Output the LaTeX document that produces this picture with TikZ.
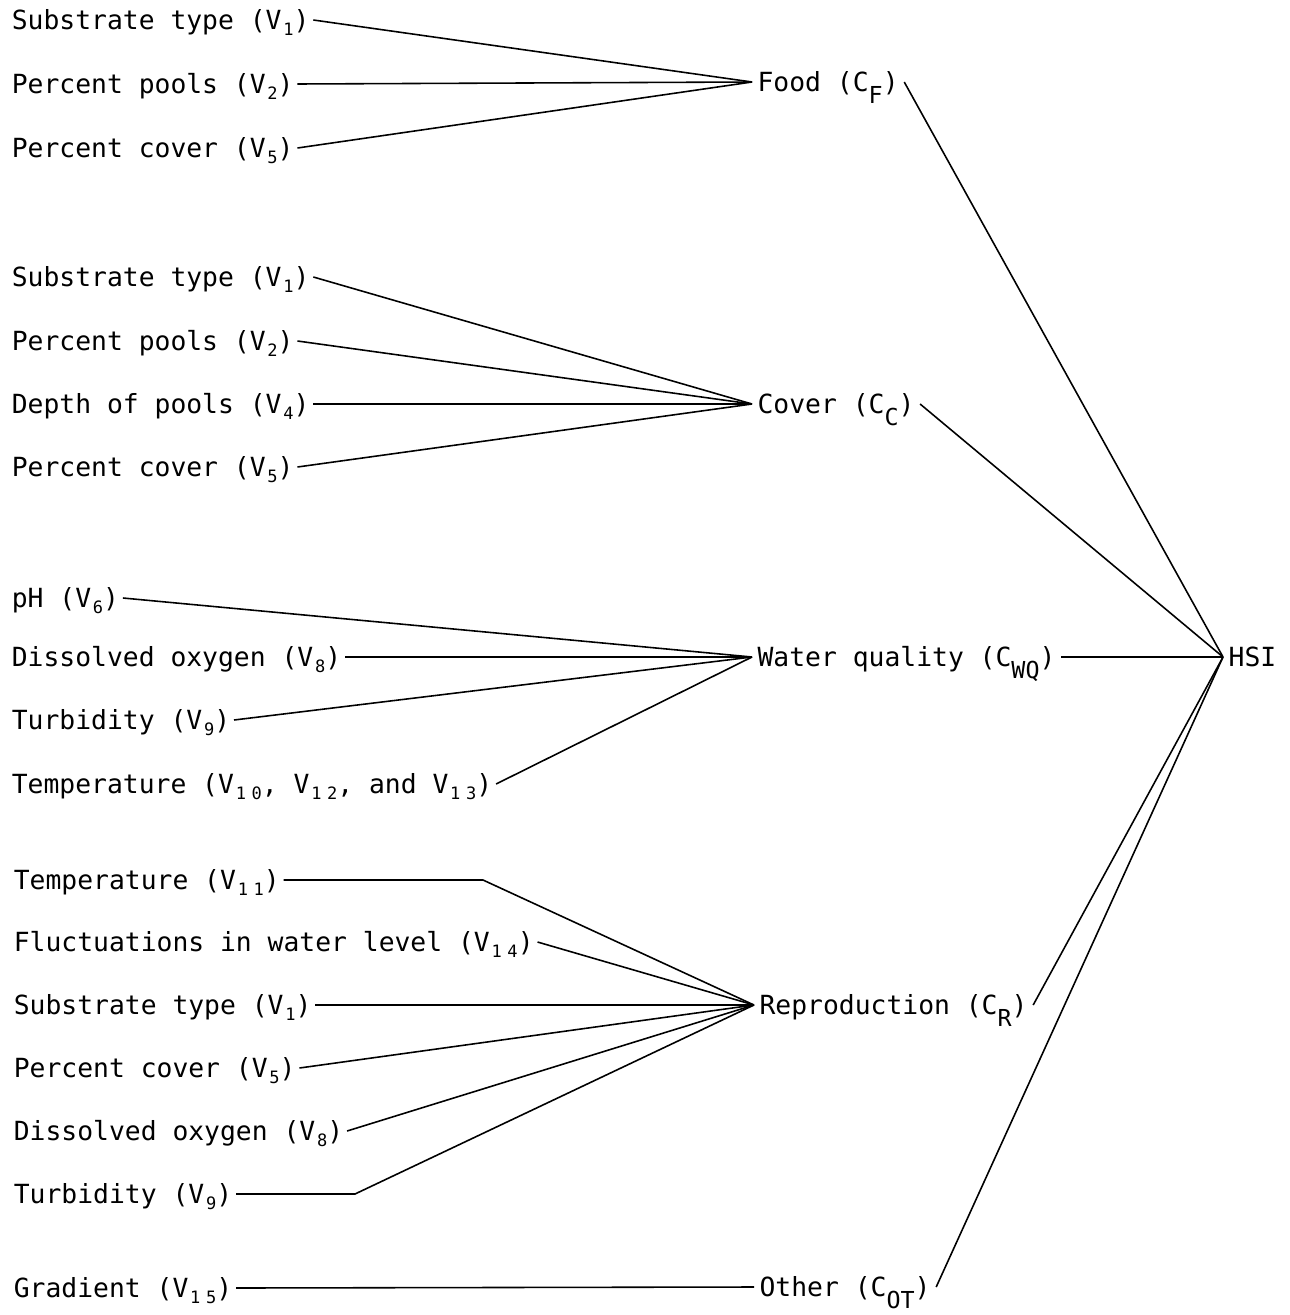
\documentclass[tikz,border=0pt]{standalone}
\usepackage{fontspec}
\newfontfamily\typefont{DejaVu Sans Mono}
\usepackage{tikz}
\usetikzlibrary{positioning}
\newcommand\vsub[1]{\raisebox{-0.4ex}{\fontsize{9.7}{10}\selectfont\addfontfeature{LetterSpace=33}\hspace{1pt}#1}}
\newcommand\csub[1]{\raisebox{-0.85ex}{\fontsize{13.3}{13}\selectfont#1}}

\begin{document}
\begin{tikzpicture}[x=0.02cm,y=-0.02cm,%
		   factor/.style={anchor=west,inner sep=2pt,text height=12pt,text depth=1.4pt,
		      font=\typefont\fontsize{15}{17}\selectfont},
		   component/.style={factor,inner sep=3pt},
		   link/.style={line width=0.9pt,black}]
	\useasboundingbox (0,0) rectangle (1290,1315);

	% components and index
	\node[component](food) at (752,82) {Food (C\csub{F})};
	\node[component](cover) at (752,404) {Cover (C\csub{C})};
	\node[component](water) at (752,657) {Water quality (C\csub{WQ})};
	\node[component](repro) at (754,1005) {Reproduction (C\csub{R})};
	\node[component](other) at (754,1287) {Other (C\csub{OT})};
	\node[component](hsi) at (1223,657) {HSI};

	\foreach \comp in {food,cover,water,repro,other}
	   \draw[link] (\comp.east) -- (hsi.west);

	% factors feeding each component
	\foreach \desc/\y [count=\i] in {%
		{Substrate type (V\vsub{1})}/20,%
		{Percent pools (V\vsub{2})}/84,%
		{Percent cover (V\vsub{5})}/148%
	   } { \node[factor](f-\i) at (8,\y) {\desc};
	       \draw[link] (f-\i.east) -- (food.west);
	   }

	\foreach \desc/\y [count=\i] in {%
		{Substrate type (V\vsub{1})}/277,%
		{Percent pools (V\vsub{2})}/341,%
		{Depth of pools (V\vsub{4})}/404,%
		{Percent cover (V\vsub{5})}/467%
	   } { \node[factor](c-\i) at (8,\y) {\desc};
	       \draw[link] (c-\i.east) -- (cover.west);
	   }

	\foreach \desc/\y [count=\i] in {%
		{pH (V\vsub{6})}/598,%
		{Dissolved oxygen (V\vsub{8})}/657,%
		{Turbidity (V\vsub{9})}/720,%
		{Temperature (V\vsub{10}, V\vsub{12}, and V\vsub{13})}/784%
	   } { \node[factor](w-\i) at (8,\y) {\desc};
	       \draw[link] (w-\i.east) -- (water.west);
	   }

	\foreach \desc/\y [count=\i] in {%
		{Temperature (V\vsub{11})}/880,%
		{Fluctuations in water level (V\vsub{14})}/942,%
		{Substrate type (V\vsub{1})}/1005,%
		{Percent cover (V\vsub{5})}/1068,%
		{Dissolved oxygen (V\vsub{8})}/1131,%
		{Turbidity (V\vsub{9})}/1194%
	   } { \node[factor](r-\i) at (10,\y) {\desc};
	       \ifnum\i=1 \coordinate (r-bend) at (483,880);
	       \else\ifnum\i=6 \coordinate (r-bend) at (355,1194);
	       \else\coordinate (r-bend) at (r-\i.east);\fi\fi
	       \draw[link] (r-\i.east) -- (r-bend) -- (repro.west);
	   }

	\node[factor](g-1) at (10,1288) {Gradient (V\vsub{15})};
	\draw[link] (g-1.east) -- (other.west);
\end{tikzpicture}
\end{document}
